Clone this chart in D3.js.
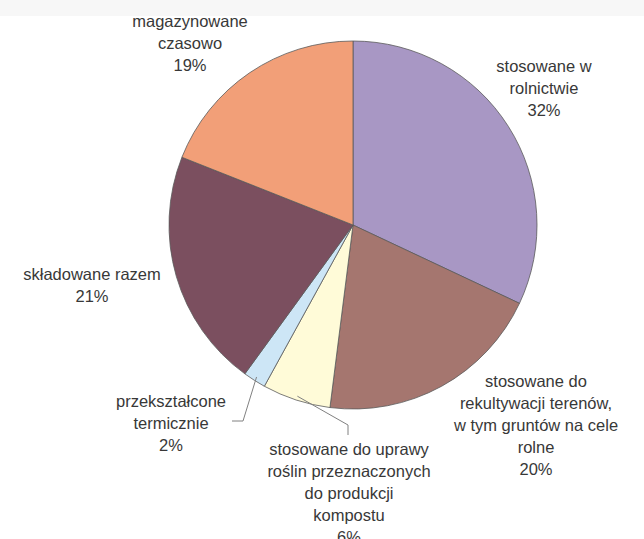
<!DOCTYPE html>
<html>
<head>
<meta charset="utf-8">
<script src="https://cdn.jsdelivr.net/npm/d3@7"></script>
<style>
  body { margin: 0; background: #fff; }
  .label { font-family: Arial, "Liberation Sans", sans-serif; font-size: 16.5px; fill: #383838; }
</style>
</head>
<body>
<div id="chart"></div>
<script>
// shares of sewage sludge use, clockwise from 12 o'clock
const categories = [
    ["stosowane w", "rolnictwie"],
    ["stosowane do", "rekultywacji terenów,", "w tym gruntów na cele", "rolne"],
    ["stosowane do uprawy", "roślin przeznaczonych", "do produkcji", "kompostu"],
    ["przekształcone", "termicznie"],
    ["składowane razem"],
    ["magazynowane", "czasowo"]
];
const values = [32, 20, 6, 2, 21, 19];
const colors = ["#a897c4", "#a5766f", "#fffbd8", "#cde6f6", "#7b4f5f", "#f29f78"];

// label first-line baseline relative to pie centre
const labelAt = [[191, -153], [183, 162], [-4, 230], [-182, 182], [-261, 55], [-163, -198]];
// leader lines only for the two thin slices
const leaders = {2: [[-5, 200], [-5, 210]], 3: [[-110, 196], [-121, 196]]};

const width = 644, height = 539;
const cx = 353, cy = 225, radius = 184;
const lineH = 22;

const svg = d3.select('#chart')
    .append('svg')
    .attr('width', width)
    .attr('height', height);

svg.append('rect')
    .attr('width', width)
    .attr('height', 16)
    .attr('fill', '#f7f7f7');

const g = svg.append('g')
    .attr('transform', `translate(${cx},${cy})`);

const pie = d3.pie().sort(null).value(d => d);
const arcs = pie(values);

const path = d3.arc().innerRadius(0).outerRadius(radius);
const edge = d3.arc().innerRadius(radius - 4).outerRadius(radius - 4);

g.selectAll('.slice')
    .data(arcs)
    .enter()
    .append('path')
    .classed('slice', true)
    .attr('d', path)
    .attr('fill', (d, i) => colors[i])
    .attr('stroke', '#5a5a5a')
    .attr('stroke-width', 0.8);

Object.keys(leaders).forEach(k => {
    const i = +k;
    const start = edge.centroid(arcs[i]);
    const pts = [start].concat(leaders[i]);
    g.append('path')
        .attr('d', d3.line()(pts))
        .attr('fill', 'none')
        .attr('stroke', '#808080')
        .attr('stroke-width', 1);
});

const labels = g.selectAll('.label')
    .data(arcs)
    .enter()
    .append('text')
    .classed('label', true)
    .attr('text-anchor', 'middle')
    .attr('x', (d, i) => labelAt[i][0])
    .attr('y', (d, i) => labelAt[i][1]);

labels.each(function(d, i) {
    const t = d3.select(this);
    const lines = categories[i].concat([values[i] + '%']);
    lines.forEach((s, j) => {
        t.append('tspan')
            .attr('x', labelAt[i][0])
            .attr('dy', j === 0 ? 0 : lineH)
            .text(s);
    });
});
</script>
</body>
</html>
